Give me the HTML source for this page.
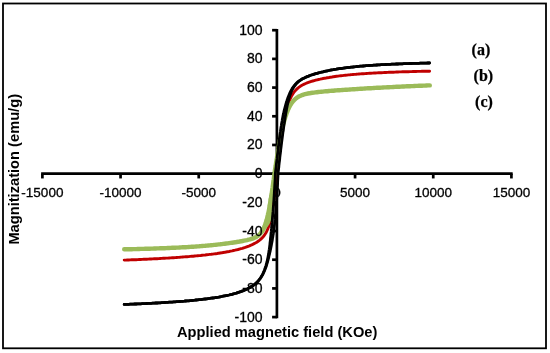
<!DOCTYPE html>
<html><head><meta charset="utf-8"><style>
html,body{margin:0;padding:0;background:#fff;width:550px;height:353px;overflow:hidden}
svg{display:block}
svg{will-change:transform}
</style></head><body>
<svg width="550" height="353" viewBox="0 0 550 353">
<rect width="550" height="353" fill="#fff"/>
<rect x="3" y="3.5" width="543" height="344.8" fill="none" stroke="#000" stroke-width="1.8"/>
<g stroke="#000" stroke-width="2.7"><line x1="41.14" y1="173.65" x2="512.66" y2="173.65"/><line x1="42.39" y1="173.65" x2="42.39" y2="178.45"/><line x1="120.56" y1="173.65" x2="120.56" y2="178.45"/><line x1="198.73" y1="173.65" x2="198.73" y2="178.45"/><line x1="276.90" y1="173.65" x2="276.90" y2="178.45"/><line x1="355.07" y1="173.65" x2="355.07" y2="178.45"/><line x1="433.24" y1="173.65" x2="433.24" y2="178.45"/><line x1="511.41" y1="173.65" x2="511.41" y2="178.45"/><line x1="276.90" y1="28.95" x2="276.90" y2="318.35"/><line x1="272.10" y1="317.10" x2="276.90" y2="317.10"/><line x1="272.10" y1="288.41" x2="276.90" y2="288.41"/><line x1="272.10" y1="259.72" x2="276.90" y2="259.72"/><line x1="272.10" y1="231.03" x2="276.90" y2="231.03"/><line x1="272.10" y1="202.34" x2="276.90" y2="202.34"/><line x1="272.10" y1="173.65" x2="276.90" y2="173.65"/><line x1="272.10" y1="144.96" x2="276.90" y2="144.96"/><line x1="272.10" y1="116.27" x2="276.90" y2="116.27"/><line x1="272.10" y1="87.58" x2="276.90" y2="87.58"/><line x1="272.10" y1="58.89" x2="276.90" y2="58.89"/><line x1="272.10" y1="30.20" x2="276.90" y2="30.20"/></g>
<path d="M124.2,260.1 L125.7,260.1 L127.2,260.0 L128.7,260.0 L130.2,259.9 L131.7,259.8 L133.2,259.8 L134.7,259.7 L136.2,259.7 L137.7,259.6 L139.2,259.5 L140.7,259.5 L142.2,259.4 L143.7,259.3 L145.2,259.3 L146.7,259.2 L148.2,259.1 L149.7,259.0 L151.2,259.0 L152.7,258.9 L154.2,258.8 L155.7,258.7 L157.2,258.7 L158.7,258.6 L160.2,258.5 L161.7,258.4 L163.2,258.3 L164.7,258.2 L166.2,258.1 L167.7,258.1 L169.2,258.0 L170.7,257.9 L172.2,257.8 L173.7,257.7 L175.2,257.6 L176.7,257.5 L178.2,257.4 L179.7,257.3 L181.2,257.1 L182.7,257.0 L184.2,256.9 L185.7,256.8 L187.2,256.7 L188.7,256.6 L190.2,256.4 L191.7,256.3 L193.2,256.2 L194.7,256.0 L196.2,255.9 L197.7,255.7 L199.2,255.6 L200.7,255.5 L202.2,255.3 L203.7,255.1 L205.2,255.0 L206.7,254.8 L208.2,254.6 L209.7,254.4 L211.2,254.3 L212.7,254.1 L214.2,253.9 L215.7,253.7 L217.2,253.5 L218.7,253.2 L220.2,253.0 L221.7,252.8 L223.2,252.5 L224.7,252.3 L226.2,252.0 L227.6,251.7 L229.1,251.5 L230.6,251.2 L232.1,250.9 L233.6,250.5 L235.0,250.2 L236.5,249.8 L238.0,249.5 L239.4,249.1 L240.9,248.7 L242.3,248.3 L243.8,247.8 L245.2,247.4 L246.6,246.9 L248.1,246.3 L249.5,245.8 L250.9,245.2 L252.2,244.6 L253.6,243.9 L254.9,243.2 L256.3,242.5 L257.5,241.7 L258.8,240.8 L260.0,239.9 L261.1,238.9 L262.2,237.9 L263.2,236.7 L264.2,235.6 L265.0,234.3 L265.8,233.0 L266.5,231.7 L267.2,230.3 L267.8,228.9 L268.3,227.5 L268.8,226.1 L269.3,224.6 L269.7,223.2 L270.1,221.7 L270.5,220.1 L270.8,218.6 L271.2,217.2 L271.5,215.7 L271.8,214.1 L272.0,212.6 L272.3,211.0 L272.6,209.4 L272.8,207.9 L273.0,206.3 L273.3,204.7 L273.5,203.1 L273.7,201.6 L273.9,200.0 L274.1,198.5 L274.2,196.9 L274.4,195.3 L274.6,193.7 L274.8,192.1 L274.9,190.5 L275.1,188.9 L275.2,187.3 L275.4,185.8 L275.5,184.1 L275.6,182.4 L275.8,180.8 L275.9,179.2 L276.0,177.4 L276.1,175.8 L276.2,174.1 L276.4,172.6 L276.6,171.0 L276.8,169.4 L277.0,167.8 L277.2,166.2 L277.4,164.6 L277.6,163.0 L277.8,161.4 L278.0,159.9 L278.2,158.3 L278.4,156.8 L278.6,155.2 L278.8,153.7 L279.0,152.2 L279.2,150.7 L279.4,149.1 L279.6,147.5 L279.8,145.9 L280.0,144.3 L280.3,142.8 L280.5,141.2 L280.7,139.7 L280.9,138.1 L281.2,136.5 L281.4,135.0 L281.7,133.5 L281.9,132.0 L282.2,130.4 L282.4,128.9 L282.7,127.4 L283.0,125.8 L283.2,124.3 L283.5,122.8 L283.8,121.2 L284.1,119.7 L284.4,118.2 L284.8,116.7 L285.1,115.2 L285.5,113.7 L285.8,112.2 L286.2,110.7 L286.6,109.2 L287.0,107.8 L287.5,106.3 L287.9,104.8 L288.4,103.4 L288.9,101.9 L289.5,100.5 L290.1,99.1 L290.7,97.7 L291.4,96.4 L292.2,95.0 L293.0,93.7 L293.8,92.5 L294.7,91.3 L295.7,90.2 L296.8,89.1 L297.9,88.1 L299.1,87.2 L300.3,86.3 L301.6,85.5 L302.9,84.8 L304.3,84.1 L305.7,83.5 L307.1,82.9 L308.5,82.4 L309.9,81.9 L311.4,81.4 L312.8,81.0 L314.3,80.6 L315.7,80.2 L317.2,79.8 L318.6,79.5 L320.1,79.2 L321.6,78.8 L323.1,78.5 L324.6,78.2 L326.0,78.0 L327.5,77.7 L329.0,77.5 L330.5,77.2 L332.0,77.0 L333.5,76.7 L335.0,76.5 L336.5,76.3 L338.0,76.1 L339.5,75.9 L341.0,75.7 L342.5,75.6 L344.0,75.4 L345.5,75.2 L347.0,75.1 L348.5,74.9 L350.0,74.8 L351.5,74.6 L353.0,74.5 L354.5,74.4 L356.0,74.3 L357.5,74.1 L359.0,74.0 L360.5,73.9 L362.0,73.8 L363.5,73.7 L365.0,73.6 L366.5,73.5 L368.0,73.4 L369.5,73.3 L371.0,73.2 L372.5,73.1 L374.0,73.0 L375.5,73.0 L377.0,72.9 L378.5,72.8 L380.0,72.7 L381.5,72.7 L383.0,72.6 L384.5,72.5 L386.0,72.5 L387.5,72.4 L389.0,72.3 L390.5,72.3 L392.0,72.2 L393.5,72.2 L395.0,72.1 L396.5,72.0 L398.0,72.0 L399.5,71.9 L401.0,71.9 L402.5,71.8 L404.0,71.8 L405.5,71.7 L407.0,71.7 L408.5,71.7 L410.0,71.6 L411.5,71.6 L413.0,71.5 L414.5,71.5 L416.0,71.5 L417.5,71.4 L419.0,71.4 L420.5,71.4 L422.0,71.3 L423.5,71.3 L425.0,71.2 L426.5,71.2 L428.0,71.2 L429.5,71.2 L429.6,71.2" fill="none" stroke="#C00000" stroke-width="2.9" stroke-linejoin="round" stroke-linecap="round"/>
<path d="M124.2,249.3 L125.7,249.3 L127.2,249.3 L128.7,249.2 L130.2,249.2 L131.7,249.2 L133.2,249.1 L134.7,249.1 L136.2,249.1 L137.7,249.0 L139.2,249.0 L140.7,248.9 L142.2,248.9 L143.7,248.9 L145.2,248.8 L146.7,248.8 L148.2,248.7 L149.7,248.7 L151.2,248.6 L152.7,248.6 L154.2,248.5 L155.7,248.5 L157.2,248.4 L158.7,248.4 L160.2,248.3 L161.7,248.3 L163.2,248.2 L164.7,248.2 L166.2,248.1 L167.7,248.0 L169.2,248.0 L170.7,247.9 L172.2,247.8 L173.7,247.8 L175.2,247.7 L176.7,247.6 L178.2,247.6 L179.7,247.5 L181.2,247.4 L182.7,247.3 L184.2,247.2 L185.7,247.2 L187.2,247.1 L188.7,247.0 L190.2,246.9 L191.7,246.8 L193.2,246.7 L194.7,246.6 L196.2,246.5 L197.7,246.4 L199.2,246.3 L200.7,246.1 L202.2,246.0 L203.7,245.9 L205.2,245.8 L206.7,245.6 L208.2,245.5 L209.7,245.4 L211.2,245.2 L212.7,245.1 L214.2,244.9 L215.7,244.8 L217.2,244.6 L218.7,244.4 L220.2,244.3 L221.7,244.1 L223.2,243.9 L224.7,243.7 L226.2,243.5 L227.7,243.4 L229.2,243.1 L230.7,242.9 L232.2,242.7 L233.7,242.5 L235.2,242.3 L236.7,242.0 L238.2,241.8 L239.7,241.5 L241.2,241.3 L242.6,241.0 L244.1,240.7 L245.6,240.4 L247.1,240.1 L248.5,239.7 L250.0,239.4 L251.4,238.9 L252.9,238.5 L254.3,237.9 L255.6,237.2 L256.9,236.5 L258.2,235.6 L259.3,234.6 L260.4,233.5 L261.3,232.3 L262.1,231.1 L262.9,229.8 L263.6,228.5 L264.2,227.1 L264.8,225.6 L265.3,224.2 L265.8,222.8 L266.2,221.3 L266.7,219.8 L267.1,218.4 L267.4,216.9 L267.8,215.3 L268.1,213.8 L268.5,212.4 L268.8,210.8 L269.1,209.3 L269.4,207.7 L269.7,206.2 L269.9,204.6 L270.2,203.1 L270.5,201.6 L270.7,200.0 L271.0,198.5 L271.2,196.9 L271.4,195.3 L271.7,193.7 L271.9,192.2 L272.1,190.7 L272.3,189.2 L272.6,187.6 L272.8,186.1 L273.0,184.5 L273.2,182.9 L273.4,181.2 L273.7,179.6 L273.9,178.1 L274.1,176.6 L274.3,175.1 L274.5,173.6 L274.7,172.1 L274.9,170.5 L275.2,168.9 L275.4,167.3 L275.7,165.8 L275.9,164.2 L276.1,162.7 L276.4,161.2 L276.6,159.6 L276.9,158.1 L277.1,156.6 L277.3,155.1 L277.6,153.6 L277.9,152.0 L278.1,150.4 L278.4,148.9 L278.6,147.4 L278.9,145.9 L279.2,144.3 L279.5,142.7 L279.7,141.2 L280.0,139.7 L280.3,138.1 L280.6,136.6 L280.9,135.1 L281.2,133.5 L281.6,132.0 L281.9,130.5 L282.2,129.0 L282.6,127.5 L282.9,126.0 L283.3,124.5 L283.7,123.0 L284.1,121.5 L284.5,120.0 L284.9,118.6 L285.3,117.1 L285.8,115.7 L286.3,114.2 L286.8,112.8 L287.4,111.4 L287.9,110.0 L288.6,108.6 L289.2,107.2 L289.9,105.9 L290.7,104.6 L291.5,103.3 L292.4,102.1 L293.4,100.9 L294.4,99.8 L295.5,98.8 L296.7,97.9 L298.0,97.0 L299.3,96.3 L300.7,95.7 L302.1,95.1 L303.5,94.6 L305.0,94.2 L306.4,93.8 L307.9,93.5 L309.4,93.3 L310.9,93.0 L312.4,92.8 L313.9,92.6 L315.4,92.4 L316.9,92.2 L318.4,92.0 L319.9,91.9 L321.4,91.7 L322.9,91.6 L324.4,91.4 L325.9,91.3 L327.4,91.2 L328.9,91.0 L330.4,90.9 L331.9,90.8 L333.4,90.7 L334.9,90.5 L336.4,90.4 L337.9,90.3 L339.4,90.2 L340.9,90.1 L342.4,90.0 L343.9,89.9 L345.4,89.8 L346.9,89.7 L348.4,89.6 L349.9,89.5 L351.4,89.4 L352.9,89.3 L354.4,89.2 L355.9,89.1 L357.4,89.0 L358.9,88.9 L360.4,88.8 L361.9,88.7 L363.4,88.6 L364.9,88.5 L366.4,88.4 L367.9,88.3 L369.4,88.3 L370.9,88.2 L372.4,88.1 L373.9,88.0 L375.4,87.9 L376.9,87.8 L378.4,87.8 L379.9,87.7 L381.4,87.6 L382.9,87.5 L384.4,87.4 L385.9,87.4 L387.4,87.3 L388.9,87.2 L390.4,87.1 L391.9,87.1 L393.4,87.0 L394.9,86.9 L396.4,86.8 L397.9,86.8 L399.4,86.7 L400.9,86.6 L402.4,86.5 L403.9,86.5 L405.4,86.4 L406.9,86.3 L408.4,86.3 L409.9,86.2 L411.4,86.1 L412.9,86.1 L414.4,86.0 L415.9,85.9 L417.4,85.9 L418.9,85.8 L420.4,85.8 L421.9,85.7 L423.4,85.6 L424.9,85.6 L426.4,85.5 L427.9,85.4 L429.4,85.4 L429.8,85.4" fill="none" stroke="#9BBB59" stroke-width="4.4" stroke-linejoin="round" stroke-linecap="round"/>
<path d="M261.6,232.0 L262.1,231.1 L262.7,230.3 L263.2,229.4 L263.7,228.5 L264.3,227.6 L264.9,226.8 L265.5,226.0 L266.1,225.1 L266.7,224.3 L267.3,223.4 L267.8,222.5 L268.2,221.5 L268.6,220.6 L268.9,219.6 L269.2,218.6 L269.5,217.6 L269.7,216.5 L270.0,215.5 L270.2,214.5 L270.4,213.5 L270.5,212.5 L270.6,211.4 L270.5,210.3 L270.4,209.3 L270.2,208.2 L270.0,207.2 L269.9,206.1 L270.0,205.1 L270.1,204.0 L270.2,203.0 L270.4,201.9 L270.6,200.8 L270.7,199.8 L270.9,198.8 L271.1,197.8 L271.2,196.8 L271.3,196.1" fill="none" stroke="#9BBB59" stroke-width="4.4" stroke-linejoin="round" stroke-linecap="round"/>
<path d="M124.2,304.4 L125.7,304.4 L127.2,304.3 L128.7,304.3 L130.2,304.2 L131.7,304.2 L133.2,304.1 L134.7,304.0 L136.2,304.0 L137.7,303.9 L139.2,303.8 L140.7,303.8 L142.2,303.7 L143.7,303.6 L145.2,303.6 L146.7,303.5 L148.2,303.4 L149.7,303.4 L151.2,303.3 L152.7,303.2 L154.2,303.1 L155.7,303.0 L157.2,303.0 L158.7,302.9 L160.2,302.8 L161.7,302.7 L163.2,302.6 L164.7,302.5 L166.2,302.4 L167.7,302.3 L169.2,302.2 L170.7,302.2 L172.2,302.1 L173.7,301.9 L175.2,301.8 L176.7,301.7 L178.2,301.6 L179.7,301.5 L181.2,301.4 L182.7,301.3 L184.2,301.2 L185.7,301.0 L187.2,300.9 L188.7,300.8 L190.2,300.6 L191.7,300.5 L193.2,300.3 L194.7,300.2 L196.2,300.0 L197.7,299.9 L199.2,299.7 L200.7,299.6 L202.2,299.4 L203.7,299.2 L205.2,299.0 L206.7,298.8 L208.2,298.6 L209.7,298.4 L211.2,298.2 L212.7,298.0 L214.2,297.8 L215.7,297.5 L217.2,297.3 L218.7,297.1 L220.1,296.8 L221.6,296.5 L223.1,296.2 L224.6,295.9 L226.1,295.6 L227.5,295.3 L229.0,295.0 L230.5,294.6 L231.9,294.3 L233.4,293.9 L234.8,293.5 L236.3,293.1 L237.7,292.6 L239.2,292.1 L240.6,291.7 L242.0,291.1 L243.4,290.6 L244.8,290.0 L246.2,289.4 L247.6,288.7 L248.9,288.1 L250.2,287.3 L251.5,286.5 L252.8,285.7 L254.0,284.8 L255.2,283.9 L256.3,282.9 L257.4,281.8 L258.4,280.7 L259.3,279.5 L260.2,278.3 L261.1,277.0 L261.8,275.7 L262.6,274.4 L263.2,273.0 L263.8,271.6 L264.4,270.2 L264.9,268.8 L265.4,267.3 L265.9,265.9 L266.3,264.4 L266.7,262.9 L267.1,261.4 L267.4,259.9 L267.7,258.4 L268.0,256.9 L268.3,255.3 L268.6,253.9 L268.8,252.3 L269.0,250.8 L269.3,249.2 L269.5,247.6 L269.7,246.0 L269.9,244.5 L270.0,242.9 L270.2,241.4 L270.4,239.8 L270.5,238.2 L270.7,236.6 L270.9,235.0 L271.0,233.4 L271.2,231.9 L271.3,230.3 L271.5,228.7 L271.6,227.1 L271.8,225.6 L271.9,224.0 L272.1,222.4 L272.2,220.8 L272.4,219.1 L272.5,217.6 L272.6,216.1 L272.8,214.5 L272.9,212.8 L273.1,211.2 L273.2,209.5 L273.3,207.9 L273.4,206.4 L273.6,204.8 L273.7,203.2 L273.8,201.5 L273.9,199.8 L274.0,198.0 L274.1,196.5 L274.2,195.0 L274.3,193.4 L274.4,191.7 L274.5,190.0 L274.6,188.3 L274.7,186.5 L274.8,184.6 L274.9,183.1 L275.0,181.5 L275.1,179.8 L275.2,178.1 L275.2,176.3 L275.3,174.4 L275.4,172.8 L275.6,171.2 L275.8,169.6 L276.0,168.0 L276.2,166.3 L276.3,164.7 L276.5,163.1 L276.7,161.5 L276.9,159.9 L277.1,158.4 L277.2,156.8 L277.4,155.2 L277.6,153.7 L277.8,152.1 L278.0,150.6 L278.1,149.1 L278.3,147.6 L278.5,146.0 L278.7,144.3 L278.9,142.7 L279.1,141.1 L279.3,139.6 L279.5,138.0 L279.7,136.5 L279.9,135.0 L280.1,133.4 L280.4,131.8 L280.6,130.3 L280.8,128.7 L281.0,127.2 L281.3,125.7 L281.5,124.1 L281.8,122.6 L282.1,121.0 L282.3,119.4 L282.6,117.9 L282.9,116.4 L283.2,114.8 L283.6,113.4 L283.9,111.8 L284.2,110.4 L284.6,108.9 L285.0,107.4 L285.4,105.9 L285.8,104.4 L286.2,103.0 L286.7,101.5 L287.1,100.0 L287.6,98.6 L288.2,97.1 L288.7,95.7 L289.3,94.3 L289.9,92.9 L290.6,91.5 L291.3,90.1 L292.0,88.8 L292.8,87.5 L293.7,86.3 L294.6,85.1 L295.6,84.0 L296.7,82.9 L297.8,81.9 L299.0,80.9 L300.3,80.1 L301.6,79.3 L302.9,78.5 L304.2,77.9 L305.6,77.2 L307.0,76.6 L308.4,76.1 L309.8,75.5 L311.2,75.0 L312.6,74.6 L314.1,74.1 L315.5,73.7 L317.0,73.3 L318.4,72.9 L319.9,72.5 L321.4,72.1 L322.8,71.8 L324.3,71.4 L325.8,71.1 L327.3,70.8 L328.7,70.5 L330.2,70.2 L331.7,69.9 L333.2,69.7 L334.7,69.4 L336.2,69.2 L337.6,68.9 L339.1,68.7 L340.6,68.5 L342.1,68.3 L343.6,68.1 L345.1,67.9 L346.6,67.7 L348.1,67.5 L349.6,67.3 L351.1,67.1 L352.6,67.0 L354.1,66.8 L355.6,66.7 L357.1,66.5 L358.6,66.4 L360.1,66.2 L361.6,66.1 L363.1,66.0 L364.6,65.9 L366.2,65.7 L367.7,65.6 L369.2,65.5 L370.7,65.4 L372.2,65.3 L373.7,65.2 L375.2,65.1 L376.7,65.0 L378.2,64.9 L379.7,64.8 L381.2,64.7 L382.7,64.7 L384.2,64.6 L385.7,64.5 L387.2,64.4 L388.7,64.4 L390.2,64.3 L391.7,64.2 L393.2,64.1 L394.7,64.1 L396.2,64.0 L397.7,64.0 L399.2,63.9 L400.7,63.8 L402.2,63.8 L403.7,63.7 L405.2,63.7 L406.7,63.6 L408.2,63.6 L409.7,63.5 L411.2,63.5 L412.7,63.4 L414.2,63.4 L415.7,63.3 L417.2,63.3 L418.7,63.3 L420.2,63.2 L421.7,63.2 L423.2,63.1 L424.7,63.1 L426.2,63.1 L427.7,63.0 L429.2,63.0 L429.4,63.0" fill="none" stroke="#000" stroke-width="2.8" stroke-linejoin="round" stroke-linecap="round"/>
<path d="M124.2,304.4 L125.7,304.4 L127.2,304.3 L128.7,304.3 L130.2,304.2 L131.7,304.2 L133.2,304.1 L134.7,304.0 L136.2,304.0 L137.7,303.9 L139.2,303.8 L140.7,303.8 L142.2,303.7 L143.7,303.6 L145.2,303.6 L146.7,303.5 L148.2,303.4 L149.7,303.4 L151.2,303.3 L152.7,303.2 L154.2,303.1 L155.7,303.0 L157.2,303.0 L158.7,302.9 L160.2,302.8 L161.7,302.7 L163.2,302.6 L164.7,302.5 L166.2,302.4 L167.7,302.3 L169.2,302.2 L170.7,302.2 L172.2,302.1 L173.7,301.9 L175.2,301.8 L176.7,301.7 L178.2,301.6 L179.7,301.5 L181.2,301.4 L182.7,301.3 L184.2,301.2 L185.7,301.0 L187.2,300.9 L188.7,300.8 L190.2,300.6 L191.7,300.5 L193.2,300.3 L194.7,300.2 L196.2,300.0 L197.7,299.9 L199.2,299.7 L200.7,299.6 L202.2,299.4 L203.7,299.2 L205.2,299.0 L206.7,298.8 L208.2,298.6 L209.7,298.4 L211.2,298.2 L212.7,298.0 L214.2,297.8 L215.7,297.5 L217.2,297.3 L218.7,297.1 L220.2,296.8 L221.7,296.5 L223.1,296.2 L224.6,295.9 L226.1,295.6 L227.6,295.3 L229.1,295.0 L230.5,294.6 L232.0,294.3 L233.5,293.9 L234.9,293.5 L236.4,293.1 L237.8,292.6 L239.2,292.2 L240.7,291.7 L242.1,291.1 L243.5,290.6 L244.9,290.0 L246.3,289.4 L247.6,288.8 L249.0,288.1 L250.3,287.3 L251.6,286.5 L252.9,285.7 L254.1,284.8 L255.3,283.9 L256.4,282.9 L257.5,281.8 L258.5,280.7 L259.5,279.5 L260.4,278.3 L261.2,277.1 L262.0,275.8 L262.8,274.5 L263.4,273.1 L264.1,271.7 L264.7,270.3 L265.2,268.9 L265.8,267.5 L266.3,266.1 L266.7,264.6 L267.2,263.1 L267.6,261.7 L268.0,260.2 L268.4,258.6 L268.8,257.1 L269.1,255.6 L269.5,254.2 L269.8,252.6 L270.2,251.1 L270.5,249.5 L270.8,248.0 L271.1,246.4 L271.4,244.9 L271.7,243.3 L272.0,241.8 L272.3,240.2 L272.5,238.6 L272.8,237.1 L273.0,235.5 L273.3,233.9 L273.5,232.4 L273.7,230.9 L273.9,229.3 L274.1,227.6 L274.3,226.1 L274.5,224.6 L274.6,223.0 L274.8,221.4 L275.0,219.7 L275.1,218.0 L275.3,216.5 L275.4,214.9 L275.6,213.3 L275.7,211.7 L275.8,210.0 L276.0,208.5 L276.1,206.9 L276.2,205.4 L276.3,203.7 L276.4,202.1 L276.6,200.4 L276.7,198.6 L276.8,197.1 L276.9,195.6 L277.0,194.0 L277.1,192.4 L277.2,190.7 L277.3,189.0 L277.4,187.2 L277.5,185.4 L277.6,183.9 L277.6,182.3 L277.7,180.6 L277.8,179.0 L277.9,177.2 L278.0,175.3 L278.0,173.5 L278.2,171.9 L278.4,170.3 L278.6,168.7 L278.8,167.1 L278.9,165.5 L279.1,163.8 L279.3,162.2 L279.5,160.7 L279.7,159.1 L279.8,157.5 L280.0,155.9 L280.2,154.4 L280.4,152.8 L280.6,151.3 L280.7,149.8 L280.9,148.3 L281.1,146.8 L281.3,145.1 L281.5,143.5 L281.7,141.9 L281.9,140.3 L282.1,138.8 L282.3,137.3 L282.5,135.8 L282.7,134.1 L282.9,132.5 L283.2,131.0 L283.4,129.4 L283.6,127.9 L283.8,126.3 L284.0,124.7 L284.3,123.2 L284.5,121.7 L284.7,120.2 L285.0,118.6 L285.2,117.1 L285.5,115.6 L285.7,114.1 L286.0,112.6 L286.3,111.1 L286.5,109.5 L286.8,108.0 L287.1,106.5 L287.4,105.0 L287.8,103.5 L288.1,102.0 L288.5,100.5 L288.8,99.0 L289.3,97.5 L289.7,96.1 L290.2,94.6 L290.8,93.2 L291.3,91.8 L291.9,90.4 L292.6,89.1 L293.4,87.8 L294.2,86.5 L295.1,85.3 L296.0,84.1 L297.1,83.0 L298.2,82.0 L299.4,81.0 L300.6,80.1 L301.8,79.3 L303.2,78.6 L304.5,77.9 L305.9,77.2 L307.3,76.6 L308.7,76.1 L310.1,75.5 L311.5,75.0 L312.9,74.6 L314.4,74.1 L315.8,73.7 L317.3,73.3 L318.7,72.9 L320.2,72.5 L321.6,72.1 L323.1,71.8 L324.6,71.4 L326.1,71.1 L327.6,70.8 L329.0,70.5 L330.5,70.2 L332.0,69.9 L333.5,69.7 L335.0,69.4 L336.4,69.2 L337.9,68.9 L339.4,68.7 L340.9,68.5 L342.4,68.3 L343.9,68.0 L345.4,67.9 L346.9,67.7 L348.4,67.5 L349.9,67.3 L351.4,67.1 L352.9,67.0 L354.4,66.8 L355.9,66.7 L357.4,66.5 L358.9,66.4 L360.4,66.2 L361.9,66.1 L363.4,66.0 L364.9,65.9 L366.4,65.7 L367.9,65.6 L369.4,65.5 L370.9,65.4 L372.4,65.3 L373.9,65.2 L375.4,65.1 L376.9,65.0 L378.4,64.9 L379.9,64.8 L381.4,64.7 L382.9,64.7 L384.4,64.6 L385.9,64.5 L387.4,64.4 L388.9,64.4 L390.4,64.3 L391.9,64.2 L393.4,64.1 L394.9,64.1 L396.4,64.0 L397.9,64.0 L399.4,63.9 L400.9,63.8 L402.4,63.8 L403.9,63.7 L405.4,63.7 L406.9,63.6 L408.4,63.6 L409.9,63.5 L411.4,63.5 L412.9,63.4 L414.4,63.4 L415.9,63.3 L417.4,63.3 L418.9,63.3 L420.4,63.2 L421.9,63.2 L423.4,63.1 L424.9,63.1 L426.4,63.1 L427.9,63.0 L429.4,63.0 L429.6,63.0" fill="none" stroke="#000" stroke-width="2.8" stroke-linejoin="round" stroke-linecap="round"/>
<g font-family="Liberation Sans, sans-serif" fill="#000" stroke="#000" stroke-width="0.3"><text x="42.39" y="197.2" text-anchor="middle" font-size="13.5">-15000</text><text x="120.56" y="197.2" text-anchor="middle" font-size="13.5">-10000</text><text x="198.73" y="197.2" text-anchor="middle" font-size="13.5">-5000</text><text x="276.90" y="197.2" text-anchor="middle" font-size="13.5">0</text><text x="355.07" y="197.2" text-anchor="middle" font-size="13.5">5000</text><text x="433.24" y="197.2" text-anchor="middle" font-size="13.5">10000</text><text x="511.41" y="197.2" text-anchor="middle" font-size="13.5">15000</text><text x="262.6" y="321.60" text-anchor="end" font-size="14">-100</text><text x="262.6" y="292.91" text-anchor="end" font-size="14">-80</text><text x="262.6" y="264.22" text-anchor="end" font-size="14">-60</text><text x="262.6" y="235.53" text-anchor="end" font-size="14">-40</text><text x="262.6" y="206.84" text-anchor="end" font-size="14">-20</text><text x="262.6" y="178.15" text-anchor="end" font-size="14">0</text><text x="262.6" y="149.46" text-anchor="end" font-size="14">20</text><text x="262.6" y="120.77" text-anchor="end" font-size="14">40</text><text x="262.6" y="92.08" text-anchor="end" font-size="14">60</text><text x="262.6" y="63.39" text-anchor="end" font-size="14">80</text><text x="262.6" y="34.70" text-anchor="end" font-size="14">100</text></g>
<g font-family="Liberation Serif, serif" font-weight="bold" font-size="16" fill="#000" stroke="#000" stroke-width="0.25"><text x="471.6" y="54.9">(a)</text><text x="473.6" y="81.3">(b)</text><text x="475.1" y="106.8">(c)</text></g>
<text x="177" y="336.5" font-family="Liberation Sans, sans-serif" font-weight="bold" font-size="14.67" fill="#000">Applied magnetic field (KOe)</text>
<text transform="translate(18.9,244.6) rotate(-90)" x="0" y="0" font-family="Liberation Sans, sans-serif" font-weight="bold" font-size="14.67" fill="#000">Magnitization (emu/g)</text>
</svg>
</body></html>
